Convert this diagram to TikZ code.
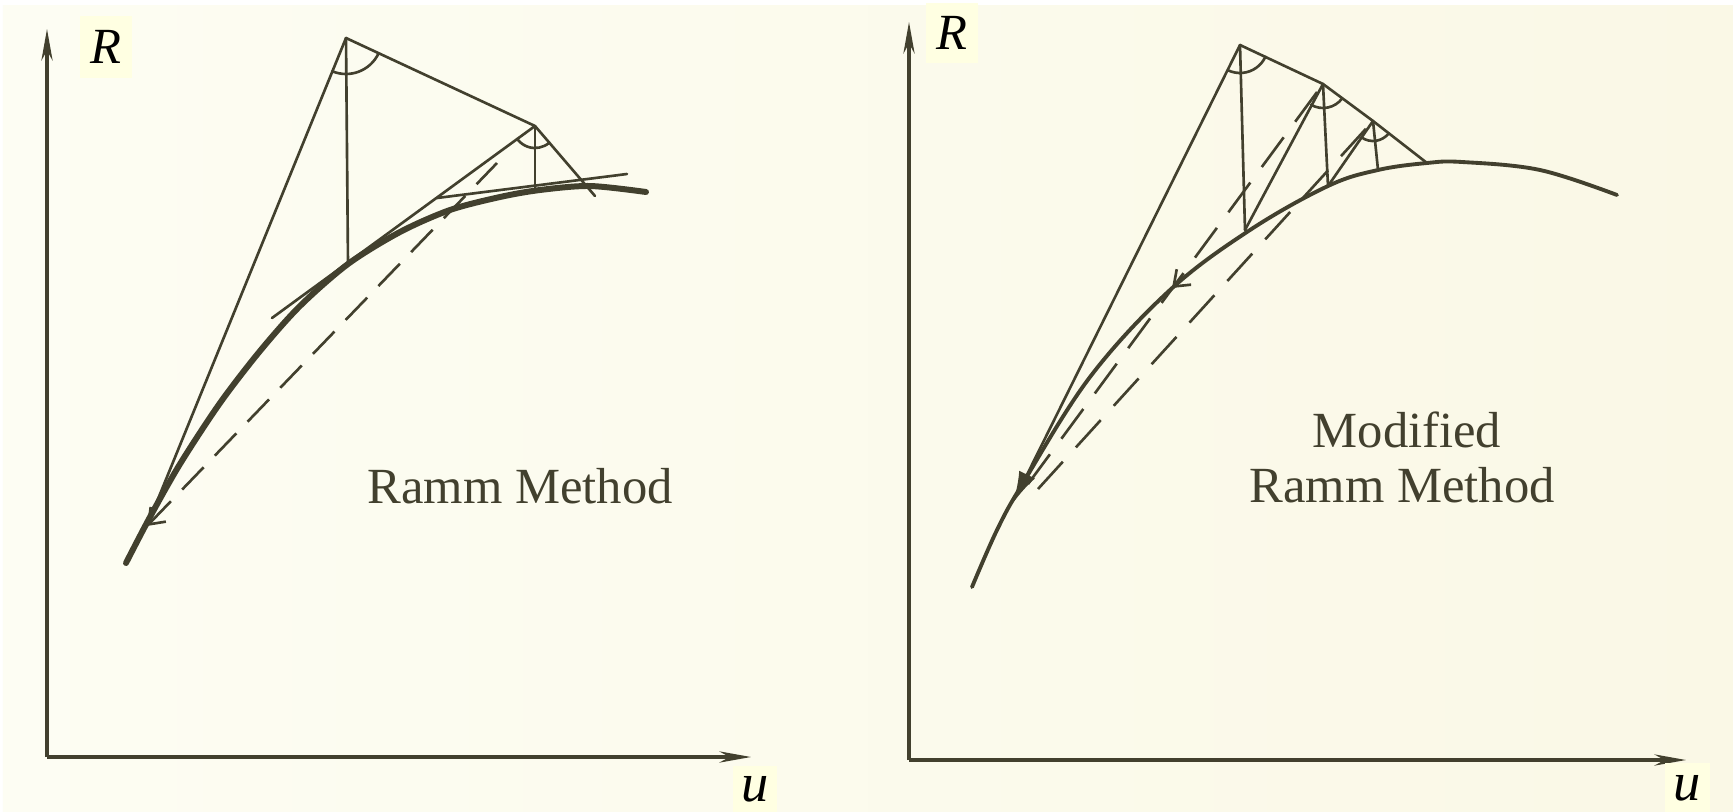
\documentclass[tikz,border=0pt]{standalone}
\usepackage{fontspec}
\setmainfont{Liberation Serif}
\usetikzlibrary{arrows.meta}
\definecolor{bgl}{RGB}{253,253,243}
\definecolor{bgr}{RGB}{250,248,230}
\definecolor{ink}{RGB}{66,64,46}
\definecolor{labbg}{RGB}{255,255,226}
\tikzset{
  axisline/.style={draw=ink, line width=0.95pt, -{Stealth[length=9pt,width=3.2pt]}},
  thinline/.style={draw=ink, line width=0.75pt, line cap=round},
  dashline/.style={draw=ink, line width=0.75pt, dash pattern=on 8.8pt off 4.6pt},
  dashlineR/.style={draw=ink, line width=0.75pt, dash pattern=on 10.5pt off 5.5pt},
  curveL/.style={draw=ink, line width=1.7pt, line cap=round},
  curveR/.style={draw=ink, line width=1.1pt, line cap=round},
  labelbox/.style={fill=labbg, inner sep=0pt, text=black, font=\fontsize{14.4}{17}\selectfont\itshape},
  caption/.style={text=ink, inner sep=0pt, font=\fontsize{14.4}{17}\selectfont},
}
\begin{document}
\begin{tikzpicture}[x=0.01cm,y=-0.01cm]
\useasboundingbox (0,0) rectangle (1733,812);
\fill[white] (0,0) rectangle (1733,812);
\shade[left color=bgl, right color=bgr] (3,5) rectangle (1733,812);

% ---------------- left panel ----------------
\coordinate (O1) at (47,757);
\coordinate (Y1) at (47,29);
\coordinate (X1) at (751,757);
\draw[axisline] (O1) -- (Y1);
\draw[axisline] (O1) -- (X1);
\node[labelbox, minimum width=0.52cm, minimum height=0.61cm] (R1) at (106,47) {R};
\node[labelbox, minimum width=0.44cm, minimum height=0.45cm, font=\fontsize{15.5}{17}\selectfont\itshape] (U1) at (755,789) {u};

\coordinate (A) at (346,38);
\coordinate (B) at (535,126);
\coordinate (C1) at (348,264);
\coordinate (C2) at (535,190);
\coordinate (P0) at (147,526);
\coordinate (T1s) at (272,318);
\coordinate (T2s) at (437,198);
\coordinate (T2e) at (627,174);
\coordinate (Bd) at (595,196);
\coordinate (Dend) at (497,163);

\draw[curveL] plot[smooth, tension=0.5] coordinates {(126,563) (150,517) (180,464) (220,403) (260,351) (300,306) (348,264) (400,232) (450,210) (500,197) (540,190) (590,186) (646,192)};
\draw[thinline] (A) -- (P0);
\draw[thinline] (A) -- (B);
\draw[thinline] (A) -- (C1);
\draw[thinline] (B) -- (C2);
\draw[thinline] (T1s) -- (B);
\draw[thinline] (B) -- (Bd);
\draw[thinline] (T2s) -- (T2e);
\draw[dashline, {Straight Barb[length=4pt,width=6pt]}-] (P0) -- (Dend);
\draw[thinline] (A) ++(25.2:36) arc (25.2:112.6:36);
\draw[thinline] (B) ++(49:22) arc (49:144:22);
\node[caption, anchor=base] (T1) at (520,503) {Ramm Method};

% ---------------- right panel ----------------
\coordinate (O2) at (909,760);
\coordinate (Y2) at (909,22);
\coordinate (X2) at (1686,760);
\draw[axisline] (O2) -- (Y2);
\draw[axisline] (O2) -- (X2);
\node[labelbox, minimum width=0.51cm, minimum height=0.59cm] (R2) at (952,33) {R};
\node[labelbox, minimum width=0.45cm, minimum height=0.49cm, font=\fontsize{15.5}{17}\selectfont\itshape] (U2) at (1687,788) {u};

\coordinate (Ap) at (1240,45);
\coordinate (Bp) at (1323,84);
\coordinate (Cp) at (1373,121);
\coordinate (Dp) at (1427,163);
\coordinate (C1p) at (1245,230);
\coordinate (C2p) at (1328,186);
\coordinate (C3p) at (1378,170);
\coordinate (P0p) at (1013,503);
\coordinate (L2s) at (1028,484);
\coordinate (L1s) at (1038,489);
\coordinate (SAs) at (1186,275);
\coordinate (SAe) at (1172,288);

\draw[curveR] plot[smooth, tension=0.6] coordinates {(972,587) (997,530) (1023,483) (1090,377) (1170,290) (1250,230) (1328,186) (1378,170) (1427,163) (1462,162) (1540,170) (1617,195)};
\draw[thinline, -{Latex[length=9pt,width=5pt]}] (Ap) -- (P0p);
\draw[thinline] (Ap) -- (Bp) -- (Cp) -- (Dp);
\draw[thinline] (Ap) -- (C1p);
\draw[thinline] (Bp) -- (C2p);
\draw[thinline] (Cp) -- (C3p);
\draw[thinline] (Bp) -- (C1p);
\draw[thinline] (Cp) -- (C2p);
\draw[dashlineR] (L2s) -- (Bp);
\draw[dashlineR] (L1s) -- (Cp);
\draw[thinline, -{Straight Barb[length=4pt,width=6pt]}] (SAs) -- (SAe);
\draw[thinline] (Ap) ++(24.6:28) arc (24.6:115.9:28);
\draw[thinline] (Bp) ++(36.5:24) arc (36.5:120:24);
\draw[thinline] (Cp) ++(38:20) arc (38:125:20);
\node[caption, anchor=base] (T2) at (1407,447) {Modified};
\node[caption, anchor=base] (T3) at (1402,502) {Ramm Method};
\end{tikzpicture}
\end{document}
